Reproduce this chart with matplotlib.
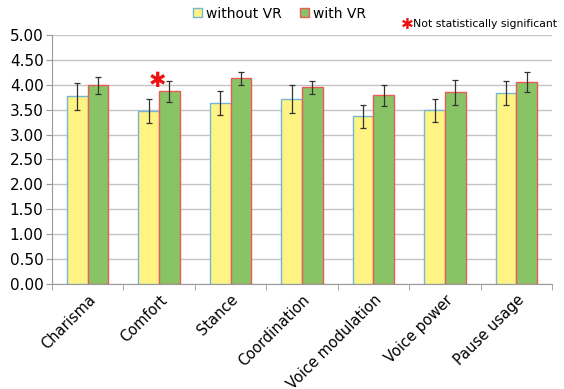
import numpy as np
import matplotlib.pyplot as plt
from matplotlib.patches import Patch

categories = ['Charisma', 'Comfort', 'Stance', 'Coordination',
              'Voice modulation', 'Voice power', 'Pause usage']
without_vr = [3.77, 3.48, 3.63, 3.71, 3.37, 3.49, 3.83]
without_err = [0.27, 0.24, 0.24, 0.28, 0.23, 0.23, 0.24]
with_vr = [3.99, 3.87, 4.13, 3.95, 3.79, 3.85, 4.06]
with_err = [0.17, 0.21, 0.13, 0.13, 0.21, 0.25, 0.20]
not_significant = ['Comfort']

yellow = '#fff384'
yellow_edge = '#72b6d8'
green = '#88c466'
green_edge = '#ec5a55'

fig = plt.figure(figsize=(5.64, 3.89), dpi=100)
ax = fig.add_axes([0.092, 0.27, 0.887, 0.64])

x = np.arange(len(categories))
w = 0.29
err_kw = dict(ecolor='#333333', elinewidth=0.9, capsize=2.5, capthick=0.9)
ax.bar(x - w / 2, without_vr, w, yerr=without_err, color=yellow,
       edgecolor=yellow_edge, linewidth=1, error_kw=err_kw, zorder=3)
ax.bar(x + w / 2, with_vr, w, yerr=with_err, color=green,
       edgecolor=green_edge, linewidth=1, error_kw=err_kw, zorder=3)

# звездочка над незначимыми
for c in not_significant:
    i = categories.index(c)
    ax.text(i - 0.03, with_vr[i] + with_err[i] + 0.0, '✱', color='#ee1111',
            fontsize=15, ha='center', va='center', zorder=4)

ax.set_xlim(-0.5, len(categories) - 0.5)
ax.set_ylim(0, 5)
ax.set_yticks(np.arange(0, 5.01, 0.5))
ax.set_yticklabels(['%.2f' % v for v in np.arange(0, 5.01, 0.5)], fontsize=11)
ax.set_xticks(x)
ax.set_xticklabels(categories, rotation=45, ha='right', rotation_mode='anchor',
                   fontsize=10.5)
ax.set_xticks(np.arange(-0.5, len(categories)), minor=True)
ax.tick_params(axis='x', which='major', length=0, pad=6)
ax.tick_params(axis='x', which='minor', length=4, color='#999999')
ax.tick_params(axis='y', length=4, color='#999999', pad=2)
ax.grid(axis='y', color='#c4c4c4', linewidth=1, zorder=0)
for s in ['top', 'right']:
    ax.spines[s].set_visible(False)
for s in ['left', 'bottom']:
    ax.spines[s].set_color('#999999')

handles = [Patch(facecolor=yellow, edgecolor=yellow_edge, label='without VR'),
           Patch(facecolor=green, edgecolor=green_edge, label='with VR')]
fig.legend(handles=handles, loc='upper center', bbox_to_anchor=(0.495, 1.015),
           ncol=2, frameon=False, fontsize=10, handlelength=0.65,
           handleheight=0.65, handletextpad=0.3, columnspacing=1.3)

fig.text(0.711, 0.938, '✱', color='#ee1111', fontsize=11, ha='left', va='center')
fig.text(0.733, 0.938, 'Not statistically significant', fontsize=7.8,
         ha='left', va='center')

fig.savefig('out.png', dpi=100)
